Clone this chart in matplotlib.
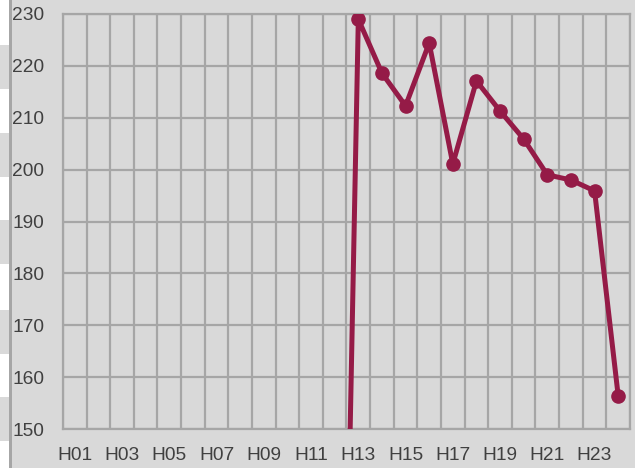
import numpy as np
import matplotlib.pyplot as plt
from matplotlib.patches import Rectangle

plt.rcParams['font.family'] = ['Liberation Sans Narrow', 'Liberation Sans', 'DejaVu Sans']

# hourly values (H01..H24), no data before H12
hours = ['H%02d' % i for i in range(1, 25)]
values = [np.nan] * 11 + [0, 229, 218.6, 212.3, 224.4, 201.1, 217.1,
                          211.3, 205.9, 199.0, 198.0, 195.9, 156.4]
yticks = [150, 160, 170, 180, 190, 200, 210, 220, 230]

bg = '#d9d9d9'
grid_c = '#a6a6a6'
line_c = '#951b47'
text_c = '#404040'

W, H = 635, 468
fig = plt.figure(figsize=(W / 100, H / 100), dpi=100, facecolor=bg)

# left edge strip (cropped neighbour table)
fig.add_artist(Rectangle((0, 0), 10 / W, 1, transform=fig.transFigure,
                         facecolor='white', edgecolor='none', zorder=-2))
for top in [45, 133, 220, 310, 397]:
    fig.add_artist(Rectangle((0, 1 - (top + 44) / H), 10 / W, 44 / H,
                             transform=fig.transFigure, facecolor=bg,
                             edgecolor='none', zorder=-2))
fig.add_artist(Rectangle((9 / W, 0), 3 / W, 1, transform=fig.transFigure,
                         facecolor=grid_c, edgecolor='none', zorder=-2))

ax = fig.add_axes([63 / W, 1 - 429 / H, 567 / W, 415 / H])
ax.set_facecolor(bg)

x = np.arange(len(hours))
ax.plot(x, values, color=line_c, lw=3.6, marker='o', ms=9.5, zorder=3,
        solid_joinstyle='round')

ax.set_xlim(-0.5, len(hours) - 0.5)
ax.set_ylim(150, 230)
ax.set_yticks(yticks)
ax.set_xticks(x[::2])
ax.set_xticklabels(hours[::2])
ax.set_xticks(np.arange(-0.5, len(hours)), minor=True)

ax.grid(True, which='minor', axis='x', color=grid_c, lw=1.6)
ax.grid(True, which='major', axis='y', color=grid_c, lw=1.6)
ax.set_axisbelow(True)

for s in ax.spines.values():
    s.set_color(grid_c)
    s.set_linewidth(1.6)

ax.tick_params(axis='both', which='both', length=0, colors=text_c, labelsize=13.8)
ax.tick_params(axis='y', pad=13.5)
ax.tick_params(axis='x', pad=13)

fig.savefig('out.png', dpi=100, facecolor=bg)
